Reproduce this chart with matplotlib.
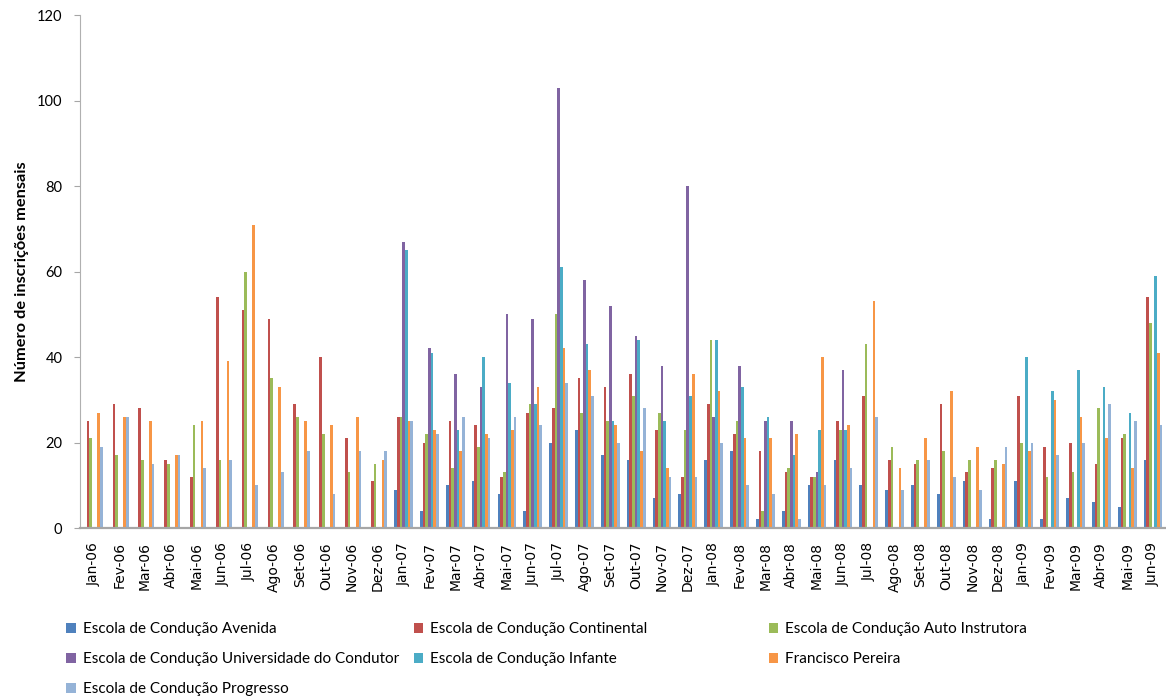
import matplotlib.pyplot as plt
import numpy as np

plt.rcParams['font.family'] = ['Lato', 'DejaVu Sans']

months = ["Jan-06", "Fev-06", "Mar-06", "Abr-06", "Mai-06", "Jun-06", "Jul-06", "Ago-06",
          "Set-06", "Out-06", "Nov-06", "Dez-06",
          "Jan-07", "Fev-07", "Mar-07", "Abr-07", "Mai-07", "Jun-07", "Jul-07", "Ago-07",
          "Set-07", "Out-07", "Nov-07", "Dez-07",
          "Jan-08", "Fev-08", "Mar-08", "Abr-08", "Mai-08", "Jun-08", "Jul-08", "Ago-08",
          "Set-08", "Out-08", "Nov-08", "Dez-08",
          "Jan-09", "Fev-09", "Mar-09", "Abr-09", "Mai-09", "Jun-09"]

# values (0 = no bar)
avenida = [0, 0, 0, 0, 0, 0, 0, 0, 0, 0, 0, 0,
           9, 4, 10, 11, 8, 4, 20, 23, 17, 16, 7, 8,
           16, 18, 2, 4, 10, 16, 10, 9, 10, 8, 11, 2,
           11, 2, 7, 6, 5, 16]
continental = [25, 29, 28, 16, 12, 54, 51, 49, 29, 40, 21, 11,
               26, 20, 25, 24, 12, 27, 28, 35, 33, 36, 23, 12,
               29, 22, 18, 13, 12, 25, 31, 16, 15, 29, 13, 14,
               31, 19, 20, 15, 21, 54]
auto_instrutora = [21, 17, 16, 15, 24, 16, 60, 35, 26, 22, 13, 15,
                   26, 22, 14, 19, 13, 29, 50, 27, 25, 31, 27, 23,
                   44, 25, 4, 14, 12, 23, 43, 19, 16, 18, 16, 16,
                   20, 12, 13, 28, 22, 48]
universidade = [0, 0, 0, 0, 0, 0, 0, 0, 0, 0, 0, 0,
                67, 42, 36, 33, 50, 49, 103, 58, 52, 45, 38, 80,
                26, 38, 25, 25, 13, 37, 0, 0, 0, 0, 0, 0,
                0, 0, 0, 0, 0, 0]
infante = [0, 0, 0, 0, 0, 0, 0, 0, 0, 0, 0, 0,
           65, 41, 23, 40, 34, 29, 61, 43, 25, 44, 25, 31,
           44, 33, 26, 17, 23, 23, 0, 0, 0, 0, 0, 0,
           40, 32, 37, 33, 27, 59]
francisco = [27, 26, 25, 17, 25, 39, 71, 33, 25, 24, 26, 16,
             25, 23, 18, 22, 23, 33, 42, 37, 24, 18, 14, 36,
             32, 21, 21, 22, 40, 24, 53, 14, 21, 32, 19, 15,
             18, 30, 26, 21, 14, 41]
progresso = [19, 26, 15, 17, 14, 16, 10, 13, 18, 8, 18, 18,
             25, 22, 26, 21, 26, 24, 34, 31, 20, 28, 12, 12,
             20, 10, 8, 2, 10, 14, 26, 9, 16, 12, 9, 19,
             20, 17, 20, 29, 25, 24]

names = ["Escola de Condução Avenida", "Escola de Condução Continental",
         "Escola de Condução Auto Instrutora", "Escola de Condução Universidade do Condutor",
         "Escola de Condução Infante", "Francisco Pereira", "Escola de Condução Progresso"]
series = [avenida, continental, auto_instrutora, universidade, infante, francisco, progresso]
colors = ['#4F81BD', '#C0504D', '#9BBB59', '#8064A2', '#4BACC6', '#F79646', '#95B3D7']

fig, ax = plt.subplots(figsize=(11.66, 6.99), dpi=100)
fig.subplots_adjust(left=0.069, right=1.0, bottom=0.2446, top=0.9785)

x = np.arange(len(months))
w = 0.104
handles = []
for k in range(7):
    b = ax.bar(x + (k - 3) * w, series[k], width=w, color=colors[k], linewidth=0)
    handles.append(b)

ax.set_xlim(-0.5, len(months) - 0.5)
ax.set_ylim(0, 120)
ax.set_yticks(range(0, 121, 20))
ax.set_xticks(x)
ax.set_xticklabels(months, rotation=90, fontsize=10, family='DejaVu Sans')
ax.tick_params(axis='x', length=0, pad=10)
ax.tick_params(axis='y', direction='out', length=4, color='#A6A6A6', pad=9, labelsize=10.5)
for s in ['top', 'right']:
    ax.spines[s].set_visible(False)
ax.spines['left'].set_color('#B0B0B0')
ax.spines['bottom'].set_color('#A6A6A6')
ax.spines['bottom'].set_linewidth(1.6)

ax.set_ylabel('Número de inscrições mensais', fontsize=11.8, fontweight='bold')
ax.yaxis.set_label_coords(-0.047, 0.5)

# legend in three columns laid out like the original
cols = [[0, 3, 6], [1, 4], [2, 5]]
xpos = [0.057, 0.355, 0.6595]
for c, idx in enumerate(cols):
    leg = fig.legend([handles[i] for i in idx], [names[i] for i in idx],
                     loc='upper left', bbox_to_anchor=(xpos[c], 0.11),
                     frameon=False, fontsize=11, handlelength=0.6, handleheight=0.6,
                     handletextpad=0.45, labelspacing=1.06, borderaxespad=0, borderpad=0)

plt.savefig("out.png", dpi=100)
